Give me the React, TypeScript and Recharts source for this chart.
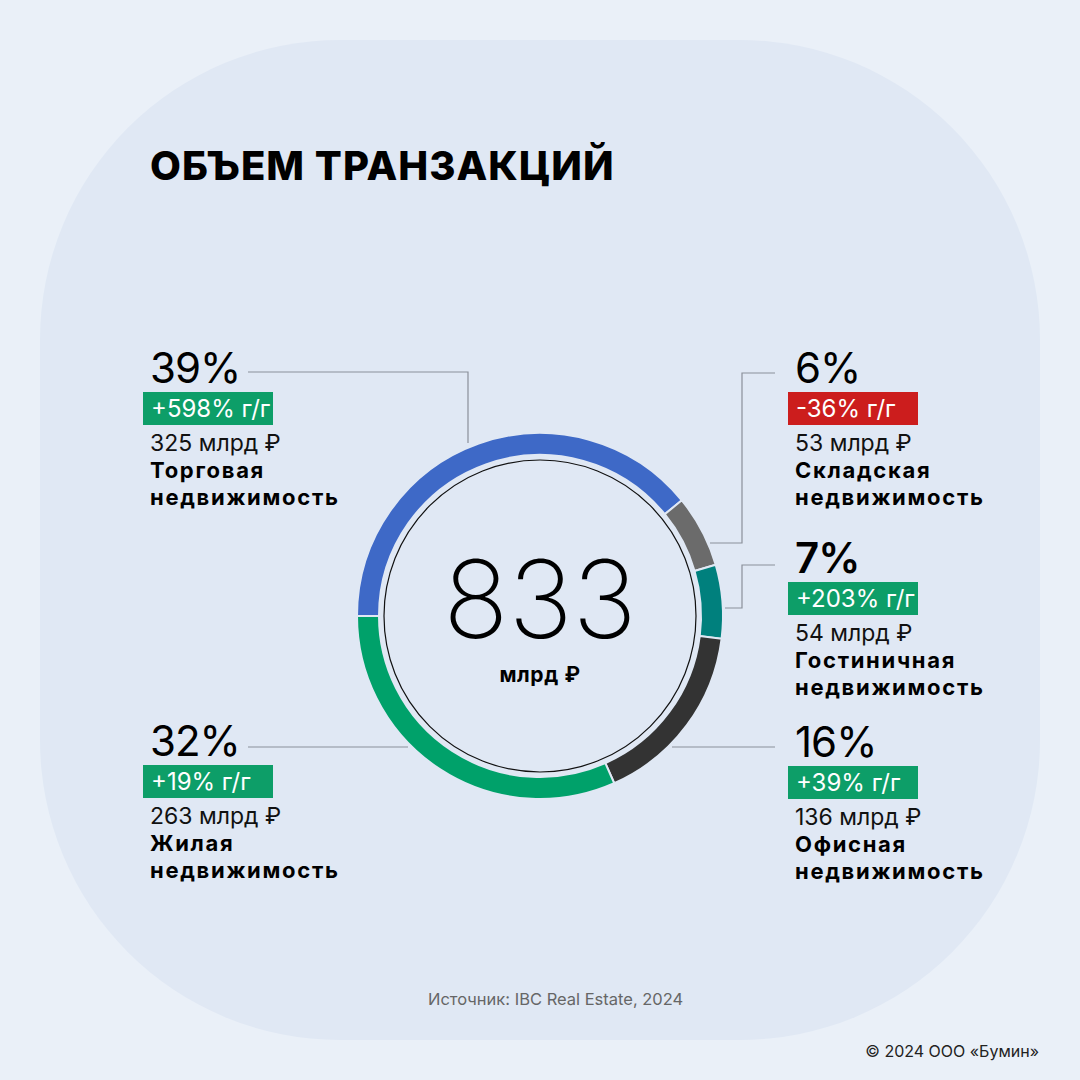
import React from "react";
import { PieChart, Pie, Cell } from "recharts";

// share of transaction volume, 2024
const sectors = ["Торговая", "Складская", "Гостиничная", "Офисная", "Жилая"];
const volumes = [325, 53, 54, 136, 263];
const shares = [39, 6, 7, 16, 32];
const growth = ["+598%", "-36%", "+203%", "+39%", "+19%"];
const colors = ["#3e69c7", "#6b6b6b", "#00807d", "#333333", "#00a16a"];
const totalVolume = 833;

const bg = "#eaf0f8";
const panel = "#e0e8f4";
const font = "Inter, 'Noto Sans', sans-serif";

// label block placement per sector (same order as sectors)
const labelPos = [
  { x: 150, y: 383 },
  { x: 795, y: 383 },
  { x: 795, y: 573 },
  { x: 795, y: 757 },
  { x: 150, y: 756 },
];

// leader lines from labels to the ring
const leaders = [
  "M248,372 H468 V443",
  "M775,373 H742 V543 H710",
  "M775,565 H742 V608 H725",
  "M775,747 H672",
  "M248,747 H408",
];

const data = sectors.map((name, i) => ({ name, value: volumes[i] }));

export default function App() {
  return (
    <div style={{ position: "relative", width: 1080, height: 1080, background: bg, overflow: "hidden" }}>
      <style>{`body{margin:0}`}</style>
      <div
        style={{
          position: "absolute",
          left: 40,
          top: 40,
          width: 1000,
          height: 1000,
          borderRadius: 300,
          background: panel,
        }}
      />
      <div style={{ position: "absolute", left: 0, top: 0 }}>
        <PieChart width={1080} height={1080} margin={{ top: 0, right: 0, bottom: 0, left: 0 }}>
          <Pie
            data={data}
            dataKey="value"
            cx={540}
            cy={616}
            innerRadius={161}
            outerRadius={183}
            startAngle={180}
            endAngle={-180}
            stroke={panel}
            strokeWidth={2}
            isAnimationActive={false}
          >
            {data.map((d, i) => (
              <Cell key={d.name} fill={colors[i]} />
            ))}
          </Pie>
        </PieChart>
      </div>
      <svg width={1080} height={1080} style={{ position: "absolute", left: 0, top: 0, fontFamily: font }}>
        <circle cx={540} cy={616} r={156} fill="none" stroke="#111" strokeWidth={1.2} />
        {leaders.map((d, i) => (
          <path key={i} d={d} fill="none" stroke="#8a8f99" strokeWidth={1.2} />
        ))}

        <text x={150} y={180} fontSize={40} fontWeight={800} fill="#000" letterSpacing={1}>
          ОБЪЕМ ТРАНЗАКЦИЙ
        </text>

        <text x={540} y={638} textAnchor="middle" fontSize={108} fontWeight={200} fill="#000">
          {totalVolume}
        </text>
        <text x={540} y={682} textAnchor="middle" fontSize={21} fontWeight={700} fill="#000" letterSpacing={0.6}>
          млрд ₽
        </text>

        {sectors.map((name, i) => {
          const p = labelPos[i];
          const neg = growth[i].startsWith("-");
          return (
            <g key={name}>
              <text x={p.x} y={p.y} fontSize={42} fontWeight={i === 2 ? 600 : 400} fill="#000" letterSpacing={-1}>
                {shares[i]}%
              </text>
              <rect x={p.x - 7} y={p.y + 9} width={130} height={33} fill={neg ? "#cc1d1d" : "#0d9e68"} />
              <text x={p.x + 1} y={p.y + 34} fontSize={24} fill="#fff">
                {growth[i]} г/г
              </text>
              <text x={p.x} y={p.y + 68} fontSize={23} fontWeight={400} fill="#111">
                {volumes[i]} млрд ₽
              </text>
              <text x={p.x} y={p.y + 95} fontSize={22} fontWeight={700} fill="#000" letterSpacing={1.7}>
                {name}
              </text>
              <text x={p.x} y={p.y + 122} fontSize={22} fontWeight={700} fill="#000" letterSpacing={1.7}>
                недвижимость
              </text>
            </g>
          );
        })}

        <text x={428} y={1005} fontSize={16.5} fill="#666">
          Источник:  IBC Real Estate, 2024
        </text>
        <text x={1039} y={1057} textAnchor="end" fontSize={16} fill="#222">
          © 2024 ООО «Бумин»
        </text>
      </svg>
    </div>
  );
}
